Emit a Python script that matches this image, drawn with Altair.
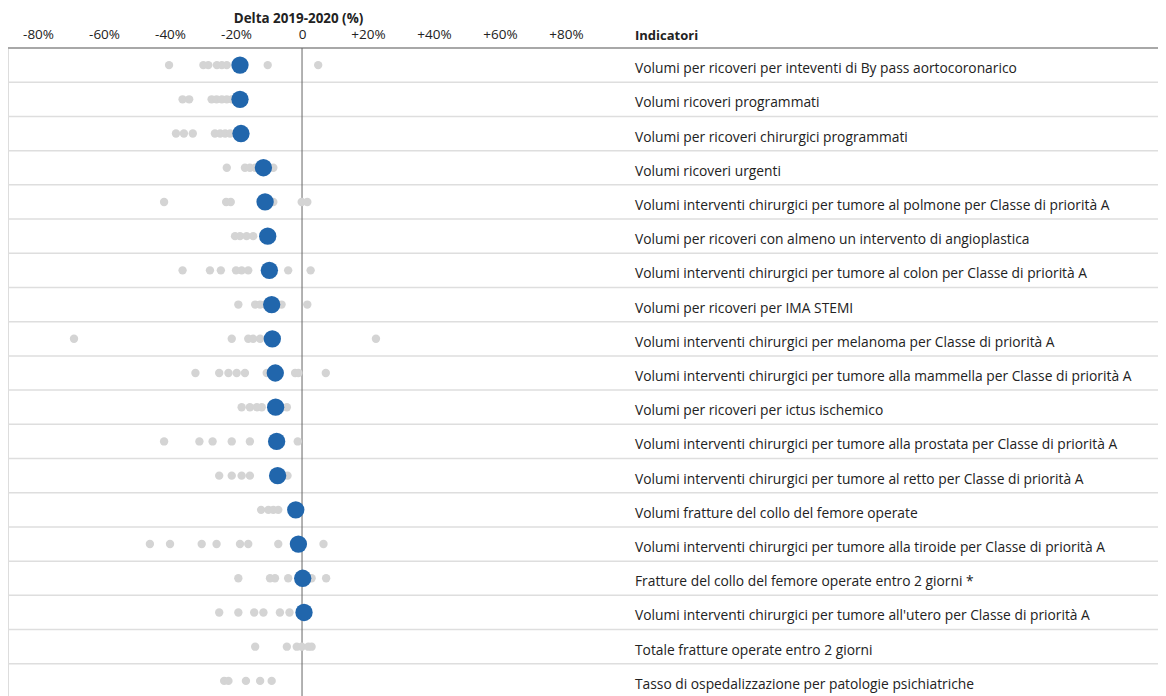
import altair as alt
import pandas as pd

indicators = [
    "Volumi per ricoveri per inteventi di By pass aortocoronarico",
    "Volumi ricoveri programmati",
    "Volumi per ricoveri chirurgici programmati",
    "Volumi ricoveri urgenti",
    "Volumi interventi chirurgici per tumore al polmone per Classe di priorità A",
    "Volumi per ricoveri con almeno un intervento di angioplastica",
    "Volumi interventi chirurgici per tumore al colon per Classe di priorità A",
    "Volumi per ricoveri per IMA STEMI",
    "Volumi interventi chirurgici per melanoma per Classe di priorità A",
    "Volumi interventi chirurgici per tumore alla mammella per Classe di priorità A",
    "Volumi per ricoveri per ictus ischemico",
    "Volumi interventi chirurgici per tumore alla prostata per Classe di priorità A",
    "Volumi interventi chirurgici per tumore al retto per Classe di priorità A",
    "Volumi fratture del collo del femore operate",
    "Volumi interventi chirurgici per tumore alla tiroide per Classe di priorità A",
    "Fratture del collo del femore operate entro 2 giorni *",
    "Volumi interventi chirurgici per tumore all'utero per Classe di priorità A",
    "Totale fratture operate entro 2 giorni",
    "Tasso di ospedalizzazione per patologie psichiatriche",
]

# National delta 2019-2020 (%) — blue dots (None = not shown)
national = [-18.8, -18.8, -18.5, -11.7, -11.2, -10.4, -9.9, -9.2, -9.0, -8.1,
            -8.0, -7.7, -7.4, -1.9, -1.1, 0.2, 0.6, None, None]

# Regional deltas (%) — grey dots
regional = [
    [-40.3, -29.9, -28.4, -25.8, -24.3, -22.8, -10.4, 4.9],
    [-36.2, -34.2, -27.4, -25.9, -24.3, -22.8, -21.3],
    [-38.2, -35.8, -33.1, -26.4, -24.8, -23.3, -21.8],
    [-22.8, -17.3, -15.8, -14.2, -8.7],
    [-41.8, -23.0, -21.6, -8.7, -0.1, 1.6],
    [-20.3, -18.8, -16.8, -14.8],
    [-36.2, -27.9, -24.6, -20.0, -18.3, -16.3, -4.2, 2.6],
    [-19.3, -14.2, -12.7, -11.2, -6.2, 1.6],
    [-69.1, -21.3, -16.3, -14.8, -12.7, 22.4],
    [-32.3, -25.1, -22.3, -19.8, -17.3, -10.7, -2.1, -1.1, 7.2],
    [-18.3, -15.8, -13.7, -12.2, -4.6],
    [-41.8, -31.1, -27.1, -21.3, -15.8, -1.3],
    [-25.1, -21.3, -18.3, -15.8, -4.4],
    [-12.4, -10.2, -8.7, -7.2],
    [-46.1, -40.0, -30.4, -25.9, -18.8, -16.3, -7.2, 6.5],
    [-19.3, -9.7, -8.2, -4.2, 2.9, 7.3],
    [-25.1, -19.3, -14.5, -11.7, -6.7, -3.8],
    [-14.2, -4.6, -1.6, -0.1, 1.9, 2.9],
    [-23.6, -22.3, -17.0, -12.7, -9.2],
]

x_ticks = [-80, -60, -40, -20, 0, 20, 40, 60, 80]

FONT = "Open Sans"
W = 1150
H = 648
ROW_RANGE = [0, 650]
PX_PER_UNIT = 3.3
X_MIN = -89.1
x_domain = [X_MIN, X_MIN + W / PX_PER_UNIT]

ind_df = pd.DataFrame({"indicator": indicators})
nat_df = pd.DataFrame({"indicator": indicators, "value": national}).dropna()
reg_df = pd.DataFrame(
    [{"indicator": ind, "value": v} for ind, vals in zip(indicators, regional) for v in vals]
)

y_scale = alt.Scale(type="band", domain=indicators, range=ROW_RANGE,
                    paddingInner=0, paddingOuter=0)
x_scale = alt.Scale(domain=x_domain, nice=False, zero=False)

x_axis = alt.Axis(
    orient="top", values=x_ticks, ticks=False, tickSize=0, domain=False, grid=False,
    labelExpr="datum.value == 0 ? '0' : (datum.value > 0 ? '+' : '') + datum.value + '%'",
    labelFont=FONT, labelFontSize=13.5, labelColor="#222", labelPadding=7,
    title="Delta 2019-2020 (%)", titleFont=FONT, titleFontSize=13.4, titleFontWeight="bold",
    titleColor="#222", titleX=290, titleY=-30, titleAlign="center", titleBaseline="middle",
    titleAnchor="start",
)

separators = alt.Chart(ind_df).mark_rule(color="#dedede", strokeWidth=1.5).encode(
    y=alt.Y("indicator:N", sort=indicators, scale=y_scale, axis=None, bandPosition=1)
)

top_line = alt.Chart(ind_df.head(1)).mark_rule(color="#a8a8a8", strokeWidth=2).encode(
    y=alt.value(0)
)

zero_line = alt.Chart(pd.DataFrame({"value": [0]})).mark_rule(color="#666666", strokeWidth=1).encode(
    x=alt.X("value:Q", scale=x_scale, axis=x_axis)
)

grey_dots = alt.Chart(reg_df).mark_circle(color="#d4d4d4", opacity=1, size=70).encode(
    x=alt.X("value:Q", scale=x_scale, axis=x_axis),
    y=alt.Y("indicator:N", sort=indicators, scale=y_scale, axis=None),
)

blue_dots = alt.Chart(nat_df).mark_circle(color="#2166ac", opacity=1, size=300).encode(
    x=alt.X("value:Q", scale=x_scale, axis=x_axis),
    y=alt.Y("indicator:N", sort=indicators, scale=y_scale, axis=None),
)

labels = alt.Chart(ind_df).mark_text(
    align="left", baseline="middle", font=FONT, fontSize=13.8, color="#222", dy=4
).encode(
    x=alt.value(627),
    y=alt.Y("indicator:N", sort=indicators, scale=y_scale, axis=None),
    text="indicator:N",
)

header = alt.Chart(pd.DataFrame({"t": ["Indicatori"]})).mark_text(
    align="left", baseline="middle", font=FONT, fontSize=13, fontWeight="bold", color="#222"
).encode(x=alt.value(627), y=alt.value(-12), text="t:N")

chart = alt.layer(
    separators, top_line, zero_line, grey_dots, blue_dots, labels, header
).properties(
    width=W, height=H,
    autosize=alt.AutoSizeParams(type="none"),
    padding={"left": 0, "top": 40, "right": 0, "bottom": 0},
).configure_view(stroke=None).configure(font=FONT)

chart.save("out.html", embed_options={"renderer": "svg", "actions": False})
